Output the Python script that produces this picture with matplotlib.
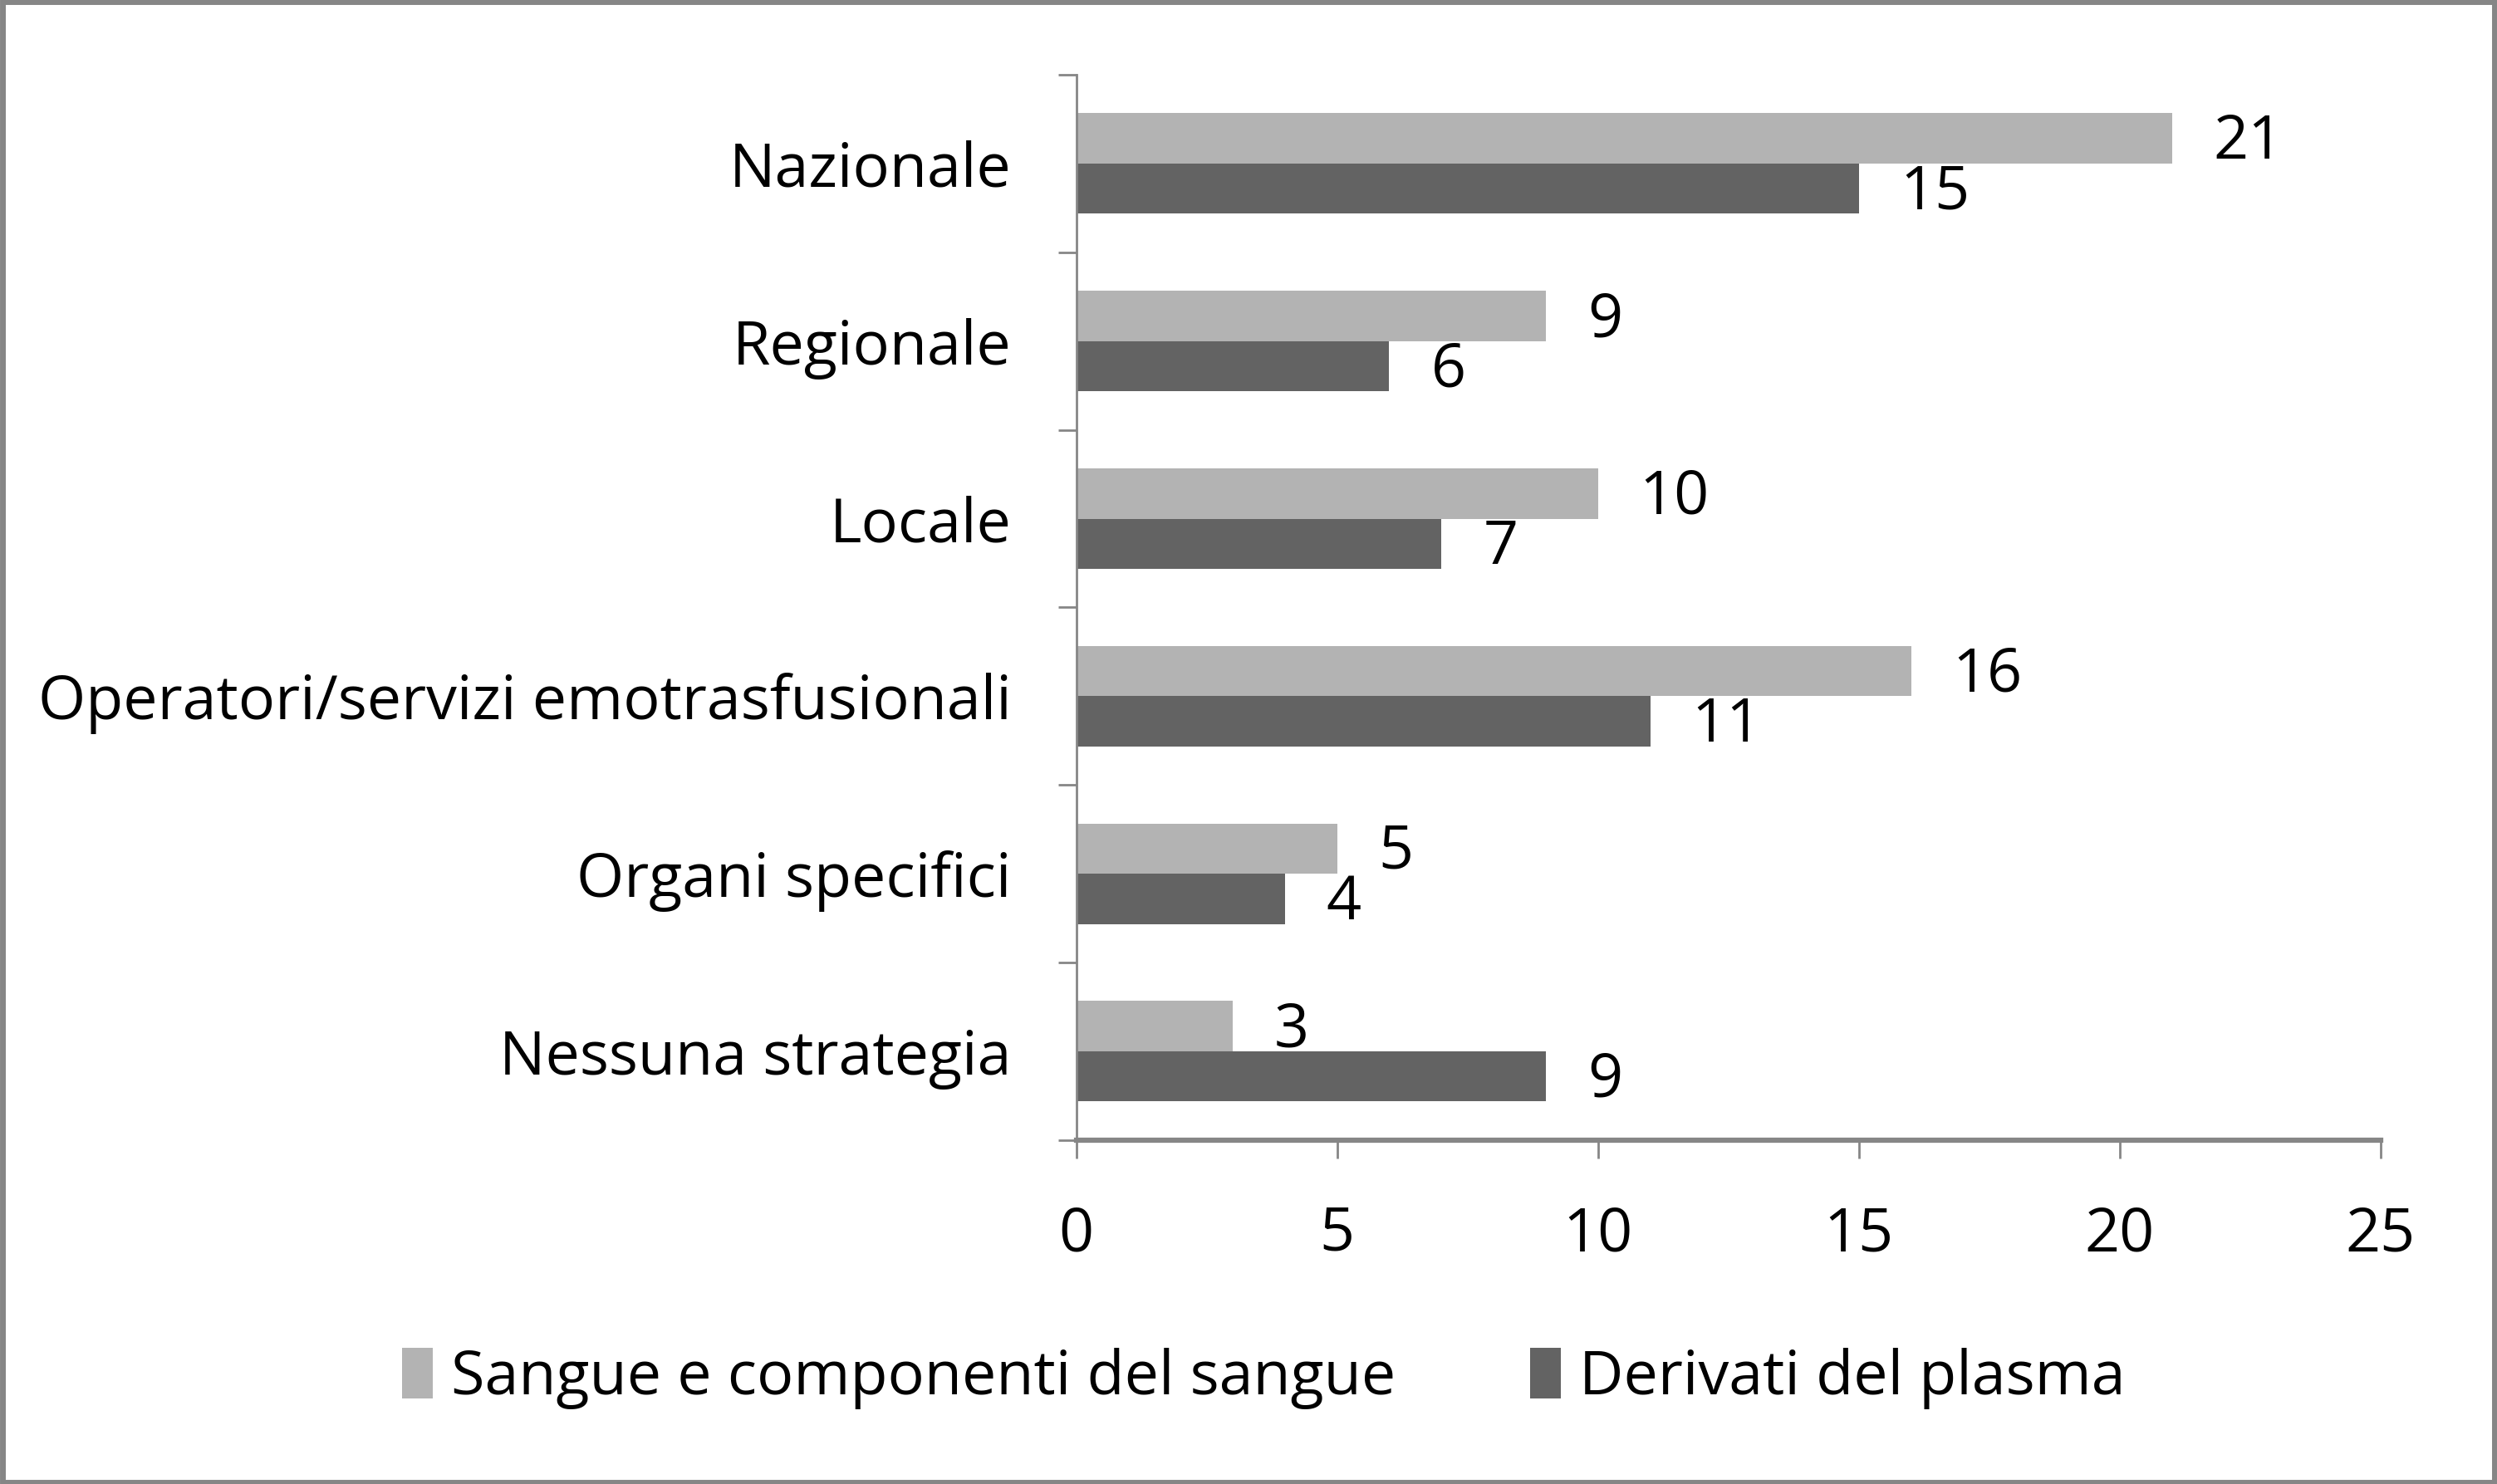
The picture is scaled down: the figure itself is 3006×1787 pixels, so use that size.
import matplotlib
matplotlib.use("Agg")
import matplotlib.pyplot as plt
from matplotlib.patches import Rectangle
import numpy as np

categories = ["Nazionale", "Regionale", "Locale",
              "Operatori/servizi emotrasfusionali", "Organi specifici",
              "Nessuna strategia"]
sangue = [21, 9, 10, 16, 5, 3]
plasma = [15, 6, 7, 11, 4, 9]
series_names = ["Sangue e componenti del sangue", "Derivati del plasma"]
xticks = [0, 5, 10, 15, 20, 25]

light = "#b3b3b3"
dark = "#636363"
axis_col = "#868686"
FONT = "Open Sans"
FS = 53

plt.rcParams['font.family'] = [FONT, 'DejaVu Sans']

fig = plt.figure(figsize=(30.06, 17.87), dpi=100)
ax = fig.add_axes([0.431, 0.2318, 0.9534 - 0.431, 0.9496 - 0.2318])

y = np.arange(len(categories))
h = 0.283
ax.barh(y - h / 2, sangue, height=h, color=light, label=series_names[0])
ax.barh(y + h / 2, plasma, height=h, color=dark, label=series_names[1])

for yi, v in zip(y, sangue):
    ax.annotate(str(v), (v, yi - h / 2), xytext=(36, -4), textcoords="offset points",
                ha="left", va="center", fontsize=FS)
for yi, v in zip(y, plasma):
    ax.annotate(str(v), (v, yi + h / 2), xytext=(36, -4), textcoords="offset points",
                ha="left", va="center", fontsize=FS)

ax.set_xlim(0, 25)
ax.set_ylim(len(categories) - 0.5, -0.5)
ax.set_xticks(xticks)
ax.set_xticklabels([str(t) for t in xticks], fontsize=FS)

ax.set_yticks(np.arange(-0.5, len(categories), 1.0))
ax.set_yticklabels([])
ax.set_yticks(y, minor=True)
ax.set_yticklabels(categories, minor=True, fontsize=FS)
ax.tick_params(axis="y", which="major", length=16, width=2, color=axis_col, direction="out")
ax.tick_params(axis="y", which="minor", length=0, pad=56)
ax.tick_params(axis="x", which="major", length=16, width=2, color=axis_col, direction="out", pad=40)

for s in ["top", "right"]:
    ax.spines[s].set_visible(False)
ax.spines["left"].set_color(axis_col)
ax.spines["left"].set_linewidth(2)
ax.spines["bottom"].set_color(axis_col)
ax.spines["bottom"].set_linewidth(4.5)

leg = fig.legend(loc="center", bbox_to_anchor=(0.506, 0.071), ncol=2, frameon=False,
                 fontsize=FS, handlelength=0.5, handleheight=0.9, handletextpad=0.3,
                 columnspacing=2.2)

fig.patches.append(Rectangle((0.001, 0.001), 0.998, 0.998, transform=fig.transFigure,
                             fill=False, edgecolor=axis_col, linewidth=5))

fig.savefig("out.png", dpi=100)
